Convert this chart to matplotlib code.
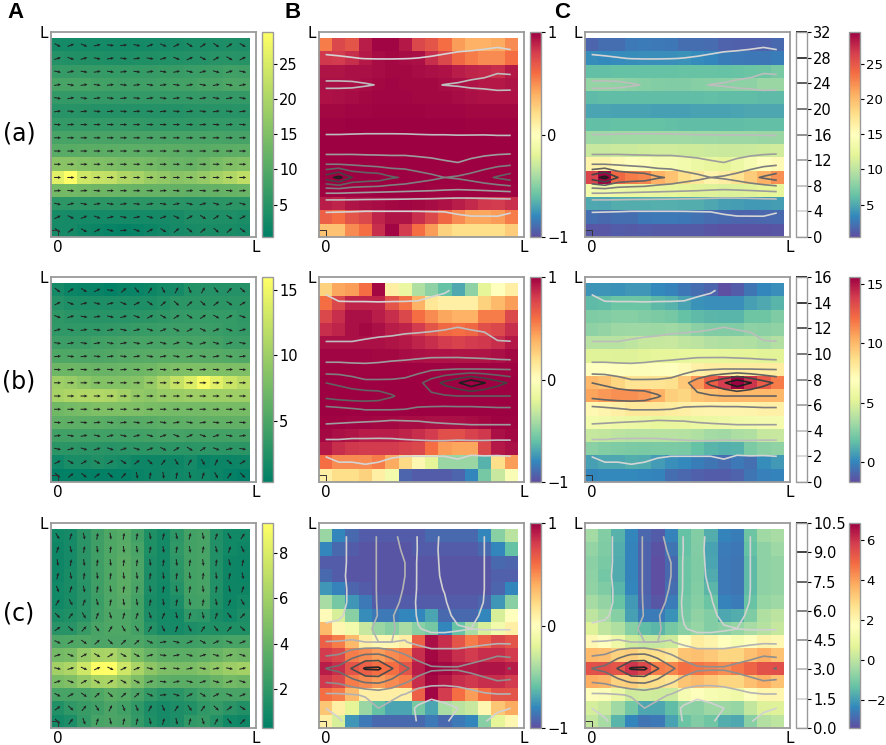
import numpy as np
import matplotlib
matplotlib.use('Agg')
import matplotlib.pyplot as plt

# 15 x 15 cells, first row is the top of the picture
mag_a = [
    [2.8, 2.8, 2.9, 2.9, 2.8, 2.7, 2.7, 2.8, 3.0, 3.2, 3.4, 3.5, 3.6, 3.8, 3.6],
    [4.5, 4.3, 4.1, 3.95, 3.9, 3.9, 3.95, 4.05, 4.2, 4.4, 4.6, 4.7, 4.9, 5.0, 4.8],
    [6.6, 6.6, 6.6, 6.6, 6.5, 6.5, 6.5, 6.6, 6.7, 6.8, 7.0, 7.2, 7.4, 7.8, 7.7],
    [8.6, 8.6, 8.5, 8.2, 7.9, 7.7, 7.6, 7.6, 7.8, 8.05, 8.2, 8.5, 8.7, 9.2, 9.1],
    [6.3, 6.3, 6.3, 6.2, 6.2, 6.2, 6.2, 6.2, 6.2, 6.3, 6.3, 6.4, 6.4, 6.3, 6.3],
    [4.9, 4.9, 4.8, 4.7, 4.7, 4.6, 4.6, 4.6, 4.7, 4.7, 4.8, 4.9, 5.0, 5.0, 5.0],
    [6.2, 6.2, 6.2, 6.2, 6.2, 6.2, 6.1, 6.0, 6.0, 6.0, 6.0, 6.1, 6.2, 6.2, 6.2],
    [8.6, 8.6, 8.7, 8.8, 8.8, 8.8, 8.8, 8.7, 8.6, 8.6, 8.5, 8.5, 8.5, 8.4, 8.4],
    [10.6, 10.6, 10.8, 10.8, 10.9, 11.0, 11.0, 10.9, 10.9, 10.8, 10.7, 10.7, 10.8, 10.9, 11.0],
    [16.0, 16.0, 15.5, 15.0, 14.5, 14.0, 14.0, 13.5, 13.0, 12.5, 12.2, 13.0, 14.0, 15.0, 15.5],
    [26.0, 29.3, 24.0, 23.0, 22.5, 20.5, 19.5, 18.0, 17.0, 16.0, 16.5, 17.5, 19.0, 20.5, 22.0],
    [13.5, 13.5, 13.2, 13.0, 12.8, 12.6, 12.4, 12.2, 12.0, 11.8, 11.6, 11.7, 11.9, 12.2, 12.5],
    [5.6, 5.6, 5.6, 5.5, 5.5, 5.5, 5.5, 5.4, 5.4, 5.2, 5.1, 5.1, 5.2, 5.3, 5.3],
    [3.1, 3.0, 2.9, 2.8, 2.8, 2.8, 2.8, 2.9, 3.0, 3.2, 3.7, 3.9, 3.9, 3.9, 3.4],
    [3.0, 3.0, 2.2, 1.8, 1.3, 1.0, 1.3, 1.8, 2.3, 3.0, 3.2, 3.3, 3.3, 3.3, 3.0],
]
cos_a = [
    [.55, .75, .7, .9, .98, .98, .92, .75, .7, .6, .45, .38, .38, .4, .5],
    [.82, .8, .85, .92, .96, .97, .96, .95, .85, .75, .62, .55, .5, .5, .6],
    [.93, .93, .95, .95, .96, .97, .97, .96, .95, .94, .9, .88, .87, .85, .92],
    [.95, .95, .95, .96, .97, .98, .97, .97, .97, .96, .95, .93, .92, .92, .93],
    [.94, .95, .96, .97, .98, .98, .98, .97, .97, .97, .96, .95, .94, .94, .94],
    [.97, .97, .98, .98, .99, .99, .99, .99, .98, .98, .98, .97, .97, .97, .97],
    [.99, .99, 1, 1, 1, 1, 1, 1, 1, 1, 1, .99, .99, .99, .99],
    [1, 1, 1, 1, 1, 1, 1, 1, 1, 1, 1, 1, 1, 1, 1],
    [1, 1, 1, 1, 1, 1, 1, 1, 1, 1, 1, 1, 1, 1, 1],
    [1, 1, 1, 1, 1, 1, 1, 1, 1, 1, 1, 1, 1, 1, 1],
    [1, 1, 1, 1, 1, 1, 1, 1, 1, 1, 1, 1, 1, 1, 1],
    [.99, .99, .99, .99, 1, 1, 1, 1, .99, .99, .99, .99, .99, .99, .99],
    [.9, .88, .93, .95, .96, .97, .98, .97, .96, .94, .9, .86, .82, .8, .84],
    [.65, .6, .7, .75, .88, .93, .93, .85, .75, .62, .5, .42, .42, .45, .55],
    [.32, .32, .5, .6, .85, .98, .8, .6, .45, .25, .2, .2, .2, .2, .28],
]

mag_b = [
    [1.7, 1.0, .8, .8, .5, .8, .9, 1.2, 1.5, 1.7, 2.5, 2.6, 2.6, 2.6, 2.6],
    [2.6, 2.2, 2.2, 2.2, 2.2, 2.2, 2.2, 2.2, 2.5, 3.0, 3.0, 3.0, 3.0, 3.0, 3.0],
    [3.2, 2.9, 2.7, 2.7, 2.7, 2.7, 2.9, 3.0, 3.2, 3.5, 3.6, 3.6, 3.6, 3.6, 3.2],
    [3.3, 3.3, 3.3, 3.3, 3.4, 3.5, 3.7, 3.8, 3.9, 4.0, 4.1, 4.0, 3.9, 3.6, 3.4],
    [4.1, 4.1, 4.1, 4.3, 4.5, 4.6, 4.7, 4.7, 4.7, 4.7, 4.7, 4.7, 4.5, 4.1, 4.1],
    [5.2, 5.2, 5.1, 5.1, 5.3, 5.5, 5.6, 5.7, 5.8, 5.8, 5.8, 5.7, 5.6, 5.4, 5.3],
    [7.0, 7.0, 6.9, 6.8, 6.8, 6.9, 7.0, 7.3, 7.8, 8.0, 8.1, 8.1, 8.1, 8.05, 8.0],
    [10.0, 9.7, 9.0, 8.4, 8.4, 8.4, 8.6, 9.5, 11.0, 12.5, 13.8, 15.6, 14.1, 12.7, 11.7],
    [10.6, 11.0, 11.2, 11.2, 11.0, 10.2, 9.3, 9.0, 9.6, 9.8, 10.0, 10.0, 10.0, 10.0, 10.0],
    [7.3, 7.5, 7.8, 8.1, 8.1, 8.1, 8.0, 7.8, 7.6, 7.5, 7.5, 7.5, 7.6, 7.7, 7.7],
    [6.2, 6.1, 6.0, 5.9, 5.8, 5.6, 5.7, 5.8, 6.0, 6.1, 6.2, 6.3, 6.3, 6.3, 6.3],
    [4.4, 4.4, 4.3, 4.3, 4.3, 4.3, 4.4, 4.5, 4.6, 4.6, 4.5, 4.5, 4.5, 4.5, 4.5],
    [3.0, 3.0, 2.9, 2.9, 2.8, 2.9, 3.0, 3.0, 3.0, 3.0, 3.0, 3.1, 3.1, 3.0, 3.0],
    [1.3, 2.0, 2.0, 2.3, 2.0, 1.6, 1.2, 1.2, 1.2, 1.2, 1.7, .8, 1.0, 1.0, 1.2],
    [.4, .5, .5, .4, .4, .5, .8, 1.0, 1.2, 1.3, 1.4, 1.3, 1.0, .6, .3],
]
cos_b = [
    [.25, .42, .45, .6, .97, .1, -.15, -.38, -.48, -.6, -.68, -.48, -.2, 0, .1],
    [.6, .75, .88, .88, .88, .7, .58, .38, .15, .1, .1, .1, .25, .35, .45],
    [.75, .85, .95, .95, .9, .85, .75, .6, .5, .42, .38, .38, .55, .55, .75],
    [.85, .88, .95, .97, .95, .9, .88, .8, .7, .62, .6, .62, .72, .75, .85],
    [.95, .95, .95, .95, .95, .93, .92, .88, .85, .8, .78, .8, .82, .85, .92],
    [.98, .98, .98, .98, .97, .97, .96, .95, .94, .94, .93, .93, .93, .95, .97],
    [.99, .99, .99, .99, .99, .99, .99, .99, .99, .99, .99, .99, .99, .99, .99],
    [1, 1, 1, 1, 1, 1, 1, 1, 1, 1, 1, 1, 1, 1, 1],
    [1, 1, 1, 1, 1, 1, 1, 1, 1, 1, 1, 1, 1, 1, 1],
    [1, 1, 1, 1, 1, 1, 1, 1, 1, 1, 1, 1, 1, 1, 1],
    [.99, .99, .98, .98, .97, .97, .96, .96, .95, .95, .95, .96, .97, .99, .99],
    [.97, .95, .93, .9, .9, .9, .88, .85, .8, .72, .72, .78, .82, .95, .97],
    [.92, .85, .82, .8, .8, .8, .78, .75, .6, .45, .42, .42, .75, .92, .95],
    [.6, .5, .5, .5, .55, .4, .22, .05, -.2, -.45, -.45, -.45, -.65, .2, .45],
    [.1, .2, .2, .25, .1, -.1, -.92, -.95, -.95, -.95, -.92, -.8, -.55, -.3, -.05],
]

mag_c = [
    [.9, 1.1, 1.8, 2.5, 3.1, 3.3, 2.6, 1.4, 1.0, 1.9, 2.7, 2.8, 1.5, .9, .9],
    [.8, 1.1, 1.8, 2.5, 3.1, 3.4, 2.8, 1.4, 1.0, 2.0, 2.7, 2.8, 1.5, .9, .8],
    [.8, 1.1, 1.8, 2.5, 3.1, 3.5, 3.0, 1.3, 1.0, 1.9, 2.7, 2.8, 1.5, .8, .7],
    [.8, 1.2, 1.8, 2.5, 3.1, 3.5, 3.0, 1.3, 1.0, 1.8, 2.7, 2.8, 1.5, .8, .7],
    [.9, 1.2, 1.7, 2.5, 3.1, 3.5, 2.9, 1.3, .9, 1.6, 2.7, 2.8, 1.5, .8, .8],
    [.9, 1.2, 1.7, 2.4, 3.1, 3.4, 2.7, 1.2, .9, 1.3, 2.6, 2.7, 1.4, .8, 1.0],
    [1.25, 1.4, 1.7, 2.5, 3.05, 3.05, 2.7, 1.3, 1.0, 1.0, 2.0, 1.9, 1.2, .9, 1.3],
    [1.7, 1.7, 2.3, 2.9, 3.1, 3.1, 2.7, 1.6, 1.1, 1.1, 1.3, 1.49, 1.4, 1.4, 1.4],
    [3.05, 3.1, 3.15, 3.0, 3.0, 3.0, 3.05, 2.7, 2.5, 2.5, 2.5, 2.6, 2.7, 2.8, 2.8],
    [4.4, 4.6, 5.5, 6.2, 6.3, 5.5, 4.6, 3.9, 3.5, 3.5, 3.5, 3.7, 4.0, 4.4, 4.2],
    [6.02, 6.4, 7.6, 9.2, 9.3, 7.6, 6.3, 5.3, 4.7, 4.65, 4.65, 5.0, 5.4, 5.8, 6.05],
    [4.6, 4.8, 5.5, 6.2, 6.3, 5.6, 4.7, 3.9, 3.6, 3.5, 3.5, 3.6, 4.0, 4.4, 4.2],
    [2.8, 2.8, 2.9, 3.1, 3.5, 3.3, 2.9, 2.1, 1.7, 1.8, 2.2, 2.6, 2.8, 2.9, 2.9],
    [1.5, 2.0, 2.3, 2.5, 3.0, 2.6, 2.0, 1.3, 1.1, 1.3, 1.5, 2.0, 2.2, 1.8, 1.5],
    [1.0, 1.3, 2.1, 2.8, 3.0, 2.9, 2.1, 1.4, 1.1, 1.3, 2.0, 2.2, 1.6, .9, .8],
]
cos_c = [
    [-.45, -.8, -.9, -.95, -.95, -.95, -.95, -.95, -.9, -.9, -.9, -.9, -.8, -.5, -.35],
    [-.8, -.9, -.95, -.97, -.97, -.97, -.97, -.95, -.95, -.95, -.95, -.95, -.9, -.8, -.6],
    [-.95, -.95, -.97, -.97, -.97, -.97, -.97, -.97, -.97, -.97, -.97, -.97, -.97, -.9, -.92],
    [-.9, -.95, -.97, -.97, -.97, -.97, -.97, -.97, -.97, -.97, -.97, -.97, -.97, -.93, -.93],
    [-.75, -.82, -.92, -.95, -.97, -.97, -.97, -.97, -.97, -.97, -.97, -.97, -.97, -.92, -.8],
    [-.4, -.55, -.75, -.85, -.95, -.95, -.95, -.95, -.95, -.95, -.95, -.95, -.92, -.75, -.5],
    [.02, -.25, -.5, -.78, -.85, -.85, -.8, -.8, -.7, -.9, -.9, -.9, -.8, -.25, 0],
    [.35, .05, -.1, -.3, -.45, -.5, -.4, -.5, -.55, -.8, -.6, -.4, -.25, -.1, .1],
    [.65, .55, .35, .1, .05, .05, .1, .65, .95, .85, .7, .55, .65, .75, .7],
    [.8, .75, .55, .5, .45, .5, .55, .85, .97, .92, .85, .8, .85, .85, .8],
    [.9, .85, .7, .65, .6, .6, .7, .9, 1, .97, .92, .92, .93, .93, .9],
    [.82, .75, .55, .5, .45, .5, .55, .85, .97, .92, .85, .82, .85, .85, .8],
    [.6, .55, .35, .1, .1, .1, .1, .65, .98, .8, .6, .45, .6, .7, .7],
    [.3, .1, -.2, -.45, -.6, -.7, -.7, -.55, -.7, -.4, -.35, -.3, .05, .3, .4],
    [.1, -.25, -.75, -.85, -.9, -.9, -.9, -.9, -.85, -.9, -.85, -.8, -.5, -.2, .05],
]

row_names = ['(a)', '(b)', '(c)']
col_names = ['A', 'B', 'C']
mag_ranges = [(0.4, 29.5), (0.3, 16.0), (0.3, 9.3)]
mag_ticks = [[5, 10, 15, 20, 25], [5, 10, 15], [2, 4, 6, 8]]
field_ranges = [(0.4, 29.5), (-1.7, 15.6), (-3.4, 6.87)]
field_ticks = [[5, 10, 15, 20, 25], [0, 5, 10, 15], [-2, 0, 2, 4, 6]]
line_levels = [
    [0, 4, 8, 12, 16, 20, 24, 28, 32],
    [0, 2, 4, 6, 8, 10, 12, 14, 16],
    [0, 1.5, 3, 4.5, 6, 7.5, 9, 10.5],
]
line_labels = [None, None, ['0.0', '1.5', '3.0', '4.5', '6.0', '7.5', '9.0', '10.5']]
flip_from_col = [15, 15, 6]

W, H = 886, 745
row_tops = [32, 277, 523]
col_lefts = [51, 319, 585]
AX_SIZE = 205
GREY = '#9a9a9a'


def px_axes(fig, left, top, width, height):
    return fig.add_axes([left / W, 1 - (top + height) / H, width / W, height / H])


def style_box(ax):
    ax.set_xlim(0, 15.5)
    ax.set_ylim(0, 15.5)
    ax.set_xticks([0.5, 15.5], ['0', 'L'])
    ax.set_yticks([15.5], ['L'])
    ax.tick_params(length=0, labelsize=11, pad=2)
    for s in ax.spines.values():
        s.set_color(GREY)
        s.set_linewidth(1.3)
    # small square in the corner
    ax.plot([0, 0.5, 0.5], [0.5, 0.5, 0], color='#333333', lw=0.7)


def style_bar(cb, ticks, size=10.5):
    cb.set_ticks(ticks)
    cb.ax.tick_params(labelsize=size, length=3, width=0.8, pad=1.5)
    cb.outline.set_edgecolor(GREY)
    cb.outline.set_linewidth(1.0)


def heat(ax, data, cmap, vmin, vmax):
    return ax.imshow(data, cmap=cmap, vmin=vmin, vmax=vmax, extent=(0, 15, 0, 15),
                     origin='upper', aspect='auto', interpolation='nearest', zorder=1)


def draw_lines(ax, X, Y, mag, levels):
    # low levels must stay visible on the pale cells
    return ax.contour(X, Y, mag, levels=levels, cmap='Greys', vmin=-0.2 * levels[-1],
                      vmax=levels[-1], linewidths=1.2, zorder=2)


fig = plt.figure(figsize=(W / 100, H / 100), dpi=100)
centers = np.arange(15) + 0.5
X, Y = np.meshgrid(centers, centers[::-1])
cols, rows = np.meshgrid(np.arange(15), np.arange(15))

for r, (mag, cos2) in enumerate([(mag_a, cos_a), (mag_b, cos_b), (mag_c, cos_c)]):
    mag = np.array(mag)
    cos2 = np.array(cos2)
    field = mag * cos2
    top = row_tops[r]

    # column A, magnitude and directions
    ax = px_axes(fig, col_lefts[0], top, AX_SIZE, AX_SIZE)
    im = heat(ax, mag, 'summer', *mag_ranges[r])
    sign = np.where((rows + cols + (cols >= flip_from_col[r])) % 2 == 0, -1.0, 1.0)
    theta = 0.5 * np.arccos(np.clip(cos2, -1, 1)) * sign
    ax.quiver(X, Y, np.cos(theta), np.sin(theta), pivot='mid', angles='xy',
              scale_units='xy', scale=1.9, width=0.005, headwidth=3.0, headlength=3.2,
              headaxislength=2.8, color='#222222', zorder=2)
    style_box(ax)
    cax = px_axes(fig, 262, top, 11, AX_SIZE)
    style_bar(fig.colorbar(im, cax=cax), mag_ticks[r])

    # column B, cos(2 theta) with lines
    ax = px_axes(fig, col_lefts[1], top, AX_SIZE, AX_SIZE)
    im = heat(ax, cos2, 'Spectral_r', -1, 1)
    draw_lines(ax, X, Y, mag, line_levels[r])
    style_box(ax)
    cax = px_axes(fig, 530, top, 11, AX_SIZE)
    style_bar(fig.colorbar(im, cax=cax), [-1, 0, 1])

    # column C, field with the same lines and two bars
    ax = px_axes(fig, col_lefts[2], top, AX_SIZE, AX_SIZE)
    im = heat(ax, field, 'Spectral_r', *field_ranges[r])
    cs = draw_lines(ax, X, Y, mag, line_levels[r])
    style_box(ax)
    cax = px_axes(fig, 796, top, 11, AX_SIZE)
    cb = fig.colorbar(cs, cax=cax)
    style_bar(cb, line_levels[r])
    if line_labels[r] is not None:
        cb.set_ticklabels(line_labels[r])
    cax = px_axes(fig, 849, top, 11, AX_SIZE)
    style_bar(fig.colorbar(im, cax=cax), field_ticks[r], size=9.5)

for name, y in zip(row_names, [133, 382, 614]):
    fig.text(19 / W, 1 - y / H, name, fontsize=17, ha='center', va='center')
for name, x in zip(col_names, [16, 293, 562]):
    fig.text(x / W, 1 - 13 / H, name, fontsize=16, fontweight='bold',
             family='Liberation Sans', ha='center', va='center')

fig.savefig('out.png', dpi=100)
plt.close(fig)
